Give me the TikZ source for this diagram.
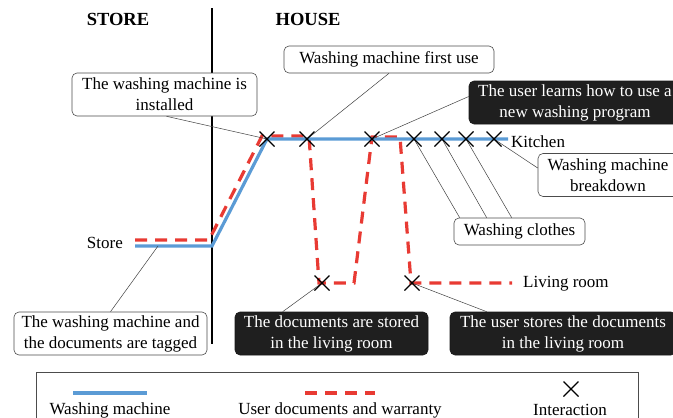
\documentclass[tikz,border=0pt]{standalone}
\usepackage{fontspec}
\setmainfont{Liberation Serif}
\usetikzlibrary{calc}
\begin{document}
\begin{tikzpicture}[x=1pt,y=-1pt,
  wbox/.style={draw=black!70,fill=white,rounded corners=5pt,line width=0.6pt,align=center,inner sep=2pt,font=\fontsize{17}{21}\selectfont},
  bbox/.style={draw=black!90,fill=black!88,text=white,rounded corners=5pt,line width=0.6pt,align=center,inner sep=2pt,font=\fontsize{17}{21}\selectfont},
  two/.style={minimum height=43pt},
  one/.style={minimum height=27pt},
  lbl/.style={font=\fontsize{17}{20}\selectfont,inner sep=0pt},
  head/.style={font=\fontsize{18.5}{20}\selectfont\bfseries},
  conn/.style={draw=black!75,line width=0.5pt},
  wm/.style={draw={rgb,255:red,91;green,155;blue,213},line width=3.2pt},
  doc/.style={draw={rgb,255:red,232;green,58;blue,51},line width=3.2pt,dash pattern=on 12pt off 8pt},
  xm/.style={line width=1.4pt}]
\useasboundingbox (0,0) rectangle (673,418);
\clip (0,0) rectangle (673,418);
\newcommand{\xmark}[1]{\draw[xm] ($(#1)+(-7.5,-7.5)$) -- ($(#1)+(7.5,7.5)$) ($(#1)+(-7.5,7.5)$) -- ($(#1)+(7.5,-7.5)$);}
% headings
\node[head] (store) at (118,19) {STORE};
\node[head] (house) at (308,19) {HOUSE};
\coordinate (vtop) at (212,8);
\coordinate (vbot) at (212,344);
\draw[line width=1.8pt] (vtop) -- (vbot);
% coordinates
\coordinate (s0) at (135,246);
\coordinate (s1) at (212,246);
\coordinate (k0) at (267,139);
\coordinate (k1) at (508,139);
\coordinate (x1) at (267,139);
\coordinate (x2) at (307,139);
\coordinate (x3) at (372,139);
\coordinate (x4) at (414,139);
\coordinate (x5) at (442,139);
\coordinate (x6) at (466,139);
\coordinate (x7) at (494,139);
\coordinate (y1) at (322,283);
\coordinate (y2) at (412,283);
% red path
\draw[doc] (135,240) -- (209,240) -- (262,136) -- (309,136) -- (319,283) -- (354,283) -- (372,137) -- (400,137) -- (411,283) -- (512,283);
% blue path
\draw[wm] (s0) -- (s1) -- (k0) -- (k1);
% labels
\node[lbl,anchor=east] (lstore) at (123,243) {Store};
\node[lbl,anchor=west] (lkit) at (511,142) {Kitchen};
\node[lbl,anchor=west] (lliv) at (523,284) {Living room};
% boxes
\node[wbox,two,minimum width=185pt] (b1) at (164.5,94.5) {The washing machine is\\installed};
\node[wbox,one,minimum width=210pt] (b2) at (389,59.5) {Washing machine first use};
\node[bbox,two,minimum width=212pt] (b3) at (575,102.5) {The user learns how to use a\\new washing program};
\node[wbox,two,minimum width=140pt] (b4) at (608,175) {Washing machine\\breakdown};
\node[wbox,one,minimum width=131pt] (b5) at (519.5,231.5) {Washing clothes};
\node[wbox,two,minimum width=193pt] (b6) at (110.5,333.5) {The washing machine and\\the documents are tagged};
\node[bbox,two,minimum width=193pt] (b7) at (331.5,333.5) {The documents are stored\\in the living room};
\node[bbox,two,minimum width=226pt] (b8) at (563,333.5) {The user stores the documents\\in the living room};
% connectors
\coordinate (t6) at (158,246);
\draw[conn] ($(b1.south)+(2,0)$) -- (x1);
\draw[conn] (b2.south) -- (x2);
\draw[conn] ($(b3.west)+(0,-6)$) -- (x3);
\draw[conn] (x7) -- ($(b4.west)+(0,-7)$);
\draw[conn] (x4) -- ($(b5.north west)+(6,0)$);
\draw[conn] (x5) -- ($(b5.north west)+(33,0)$);
\draw[conn] (x6) -- ($(b5.north west)+(58,0)$);
\draw[conn] (t6) -- (b6.north);
\draw[conn] (y1) -- ($(b7.north west)+(48,0)$);
\draw[conn] (y2) -- ($(b8.north west)+(37,0)$);
% x marks
\foreach \p in {x1,x2,x3,x4,x5,x6,x7,y1,y2}{\xmark{\p}}
% legend
\node[draw=black!70,line width=0.8pt,minimum width=602pt,minimum height=60pt,anchor=north west] (leg) at (36,372) {};
\coordinate (la) at (73,393);
\coordinate (lb) at (147,393);
\draw[wm] (la) -- (lb);
\node[lbl] (lt1) at (110,410) {Washing machine};
\coordinate (lc) at (305,393);
\coordinate (ld) at (375,393);
\draw[doc] (lc) -- (ld);
\node[lbl] (lt2) at (340,410) {User documents and warranty};
\coordinate (lx) at (571,389);
\xmark{lx}
\node[lbl] (lt3) at (570,410) {Interaction};
\end{tikzpicture}
\end{document}
